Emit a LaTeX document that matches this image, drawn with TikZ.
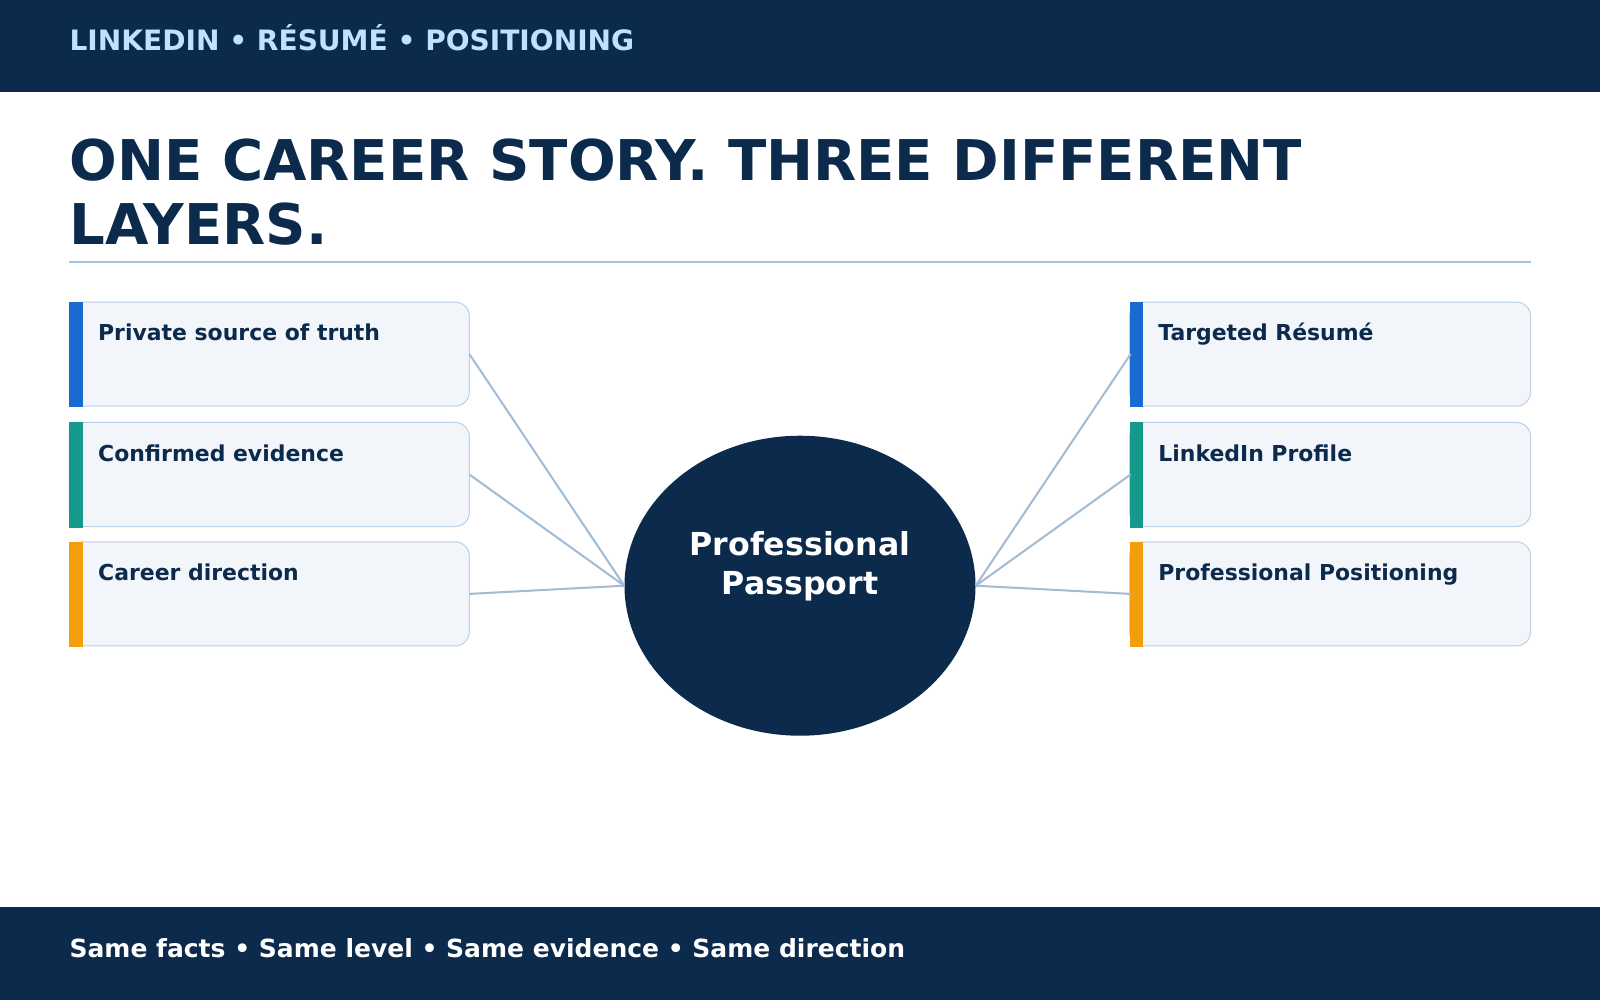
\documentclass[tikz,border=0pt]{standalone}
\usepackage{fontspec}
\setmainfont{DejaVu Sans}
\usetikzlibrary{shapes.geometric}
\definecolor{navy}{HTML}{0B2A4C}
\definecolor{hdr}{HTML}{BFE3FF}
\definecolor{boxfill}{HTML}{F2F6FB}
\definecolor{boxline}{HTML}{BCD0E6}
\definecolor{cblue}{HTML}{1A6BD1}
\definecolor{cteal}{HTML}{14998A}
\definecolor{corange}{HTML}{F59E0B}
\definecolor{conn}{HTML}{A3BCD6}
\definecolor{rule}{HTML}{9FC5E8}
\begin{document}
\begin{tikzpicture}[x=1pt,y=-1pt,
  card/.style={draw=boxline,line width=1pt,fill=boxfill,rounded corners=14pt},
  lbl/.style={anchor=base west,font=\bfseries\fontsize{21.5}{25}\selectfont,text=navy,inner sep=0},
  link/.style={draw=conn,line width=2pt}]
\useasboundingbox (0,0) rectangle (1568,980);
\fill[navy] (0,0) rectangle (1568,90);
\fill[navy] (0,889) rectangle (1568,980);
\node[anchor=base west,inner sep=0,text=hdr,font=\bfseries\fontsize{27.5}{32}\selectfont] (hd) at (68,49) {LINKEDIN • RÉSUMÉ • POSITIONING};
\node[anchor=base west,inner sep=0,text=white,font=\bfseries\fontsize{24.5}{29}\selectfont] (ft) at (68,938) {Same facts • Same level • Same evidence • Same direction};
\node[anchor=base west,inner sep=0,text=navy,font=\bfseries\fontsize{55}{64}\selectfont] (t1) at (68,177) {ONE CAREER STORY. THREE DIFFERENT};
\node[anchor=base west,inner sep=0,text=navy,font=\bfseries\fontsize{55}{64}\selectfont] (t2) at (68,240) {LAYERS.};
\draw[rule,line width=2pt] (68,257) -- (1500,257);
\node[ellipse,fill=navy,minimum width=344pt,minimum height=294pt,inner sep=0] (c) at (784,574) {};
\node[text=white,align=center,font=\bfseries\fontsize{31}{39}\selectfont] (ct) at (784,555) {Professional\\Passport};
\foreach \i/\y/\col/\lt/\rt in {1/296/cblue/Private source of truth/Targeted Résumé,
  2/414/cteal/Confirmed evidence/LinkedIn Profile,
  3/531/corange/Career direction/Professional Positioning}{
  \draw[card] (68,\y) rectangle (460,\y+102);
  \fill[\col] (68,\y) rectangle (81,\y+103);
  \coordinate (L\i) at (460,\y+51);
  \node[lbl] (lt\i) at (96,\y+38) {\lt};
  \draw[card] (1107,\y) rectangle (1500,\y+102);
  \fill[\col] (1107,\y) rectangle (1120,\y+103);
  \coordinate (R\i) at (1108,\y+51);
  \node[lbl] (rt\i) at (1135,\y+38) {\rt};
  \draw[link] (L\i) -- (c.west);
  \draw[link] (R\i) -- (c.east);
}
\end{tikzpicture}
\end{document}
